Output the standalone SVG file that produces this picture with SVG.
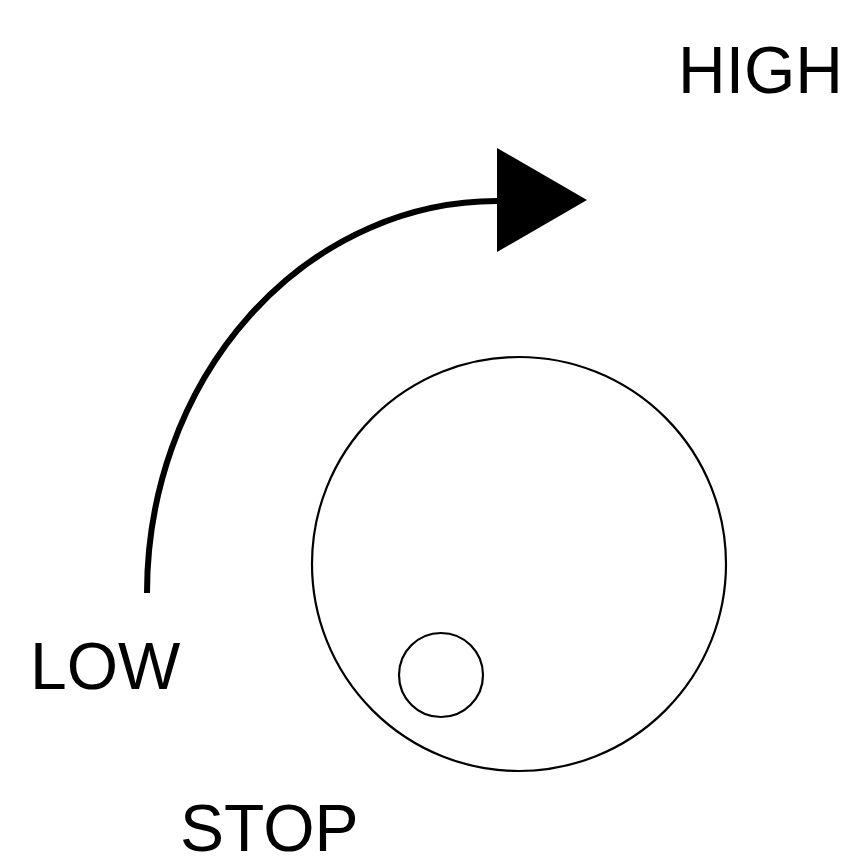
<svg xmlns="http://www.w3.org/2000/svg" width="855" height="865" viewBox="0 0 855 865">
<style>
text{font-family:"Liberation Sans",Arial,sans-serif;font-size:66px;fill:#000}
.ring{fill:none;stroke:#000;stroke-width:2.2}
.arc{fill:none;stroke:#000;stroke-width:6}
</style>
<rect width="855" height="865" fill="#fff"/>
<g id="knob">
<circle class="ring" cx="519" cy="564" r="207"/>
</g>
<g id="pointer">
<circle class="ring" cx="441" cy="675" r="42"/>
</g>
<g id="connectors">
<path class="arc" d="M147,593 A350,392 0 0 1 499,201"/>
<polygon points="497,148 587,200 497,252" fill="#000"/>
</g>
<g id="label-high"><text x="678" y="93">HIGH</text></g>
<g id="label-low"><text x="30" y="689">LOW</text></g>
<g id="label-stop"><text x="180" y="851">STOP</text></g>
</svg>
